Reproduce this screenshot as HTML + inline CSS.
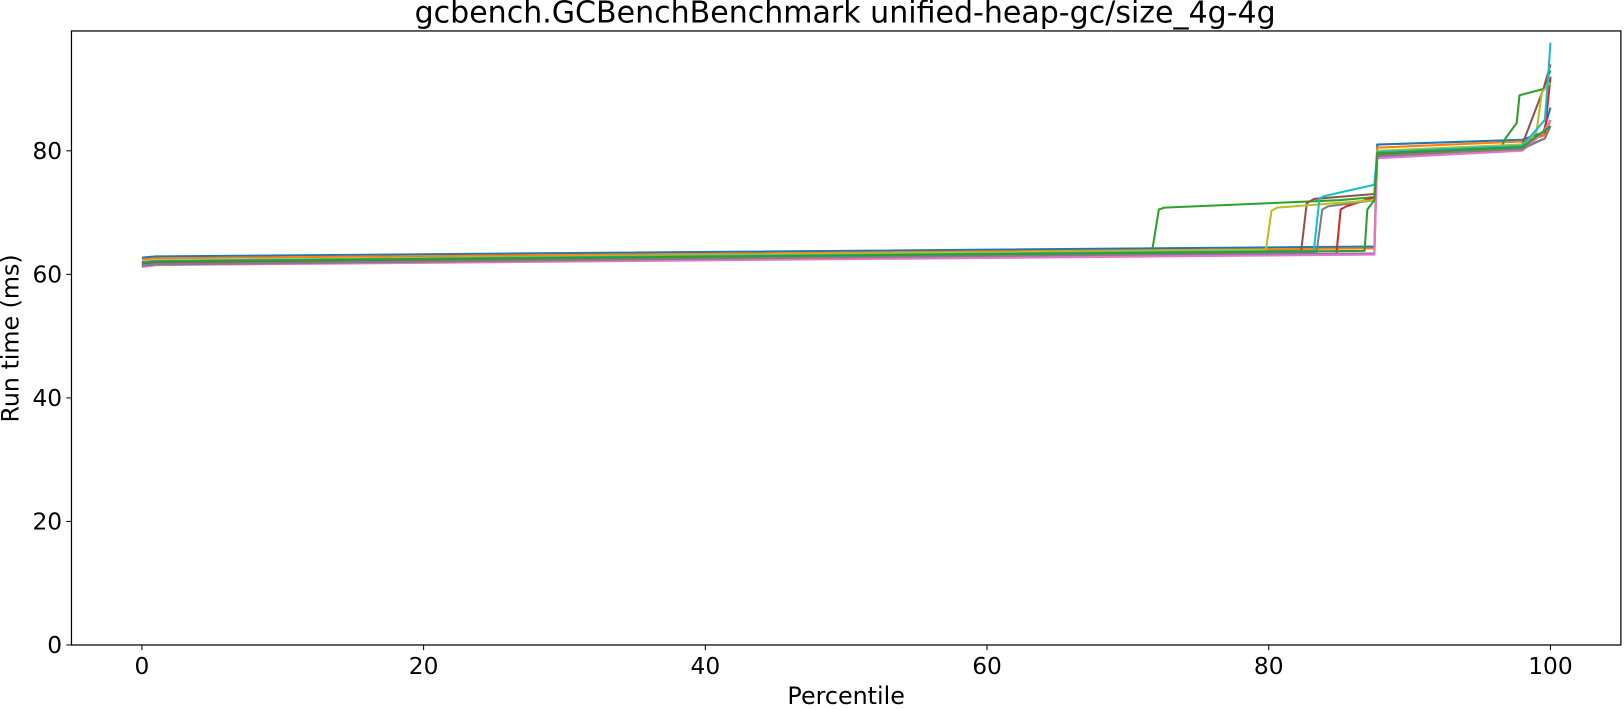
<!DOCTYPE html>
<html><head><meta charset="utf-8"><style>
html,body{margin:0;padding:0;background:#fff;overflow:hidden}
svg{display:block}
text{font-family:"DejaVu Sans","Liberation Sans",sans-serif;fill:#000}
</style></head><body>
<svg id="chart" width="1624" height="710" viewBox="0 0 1568 688" preserveAspectRatio="none" xmlns="http://www.w3.org/2000/svg">
<rect x="0" y="0" width="1568" height="688" fill="#fff"/>
<g id="series"></g>
<rect x="69" y="30" width="1496" height="595" fill="none" stroke="#000" stroke-width="1.2"/>
<g id="axes"></g>
<text x="816" y="22" font-size="29" text-anchor="middle">gcbench.GCBenchBenchmark unified-heap-gc/size_4g-4g</text>
<text x="817" y="682" font-size="23" text-anchor="middle">Percentile</text>
<text transform="translate(18,328) rotate(-90)" font-size="23" text-anchor="middle">Run time (ms)</text>
</svg>
<script>
const xTicks=[0,20,40,60,80,100];
const yTicks=[0,20,40,60,80];
const seriesColors=["#1f77b4","#ff7f0e","#2ca02c","#d62728","#9467bd","#8c564b","#e377c2","#7f7f7f","#bcbd22","#17becf","#2ca02c"];
const seriesNames=["run-1","run-2","run-3","run-4","run-5","run-6","run-7","run-8","run-9","run-10","run-11"];
const s1x=[0,1,87.5,87.7,98,99.5,100]; const s1y=[62.7,62.9,64.5,81,81.8,83,87];
const s2x=[0,1,87.5,87.7,98,99.6,100]; const s2y=[62.4,62.6,64.2,80.5,81.5,82.5,85];
const s3x=[0,1,71.7,72.2,72.6,85,87.5,87.7,96.5,96.8,97.6,97.8,99.5,100]; const s3y=[61.8,62,63.5,70.5,70.8,72,72.5,79.5,80.5,82,84.5,89,90,93];
const s4x=[0,1,84.8,85.1,85.5,87.5,87.7,98,99.6,100]; const s4y=[61.5,61.7,63.3,70.5,71,72.5,79.2,80.5,83,92];
const s5x=[0,1,87.5,87.7,98,99.6,100]; const s5y=[61.6,61.8,63.4,79,80.5,82,84];
const s6x=[0,1,82.3,82.7,83.2,87.5,87.7,98,99.5,100]; const s6y=[61.8,62,63.8,71.5,72.2,73,79.5,81,90,94];
const s7x=[0,1,87.5,87.7,98,99.5,100]; const s7y=[61.2,61.5,63.2,78.8,80,83,85];
const s8x=[0,1,83.4,83.8,84.2,87.5,87.7,98,99.6,100]; const s8y=[61.4,61.6,63.6,70.5,71,72,79.2,80.3,82,84];
const s9x=[0,1,79.8,80.2,80.6,87.5,87.7,98,99,99.4,100]; const s9y=[62,62.2,64,70.3,70.8,72,80,81,83,89.5,91];
const s10x=[0,1,83.2,83.6,84,87.5,87.7,98,99.6,99.8,100]; const s10y=[62,62.2,63.8,72.3,72.7,74.5,79.8,80.8,85,91,97.5];
const s11x=[0,1,86.8,87,87.5,87.7,98,100]; const s11y=[61.9,62.1,63.8,70.5,72,79.6,80.6,84];
const allX=[s1x,s2x,s3x,s4x,s5x,s6x,s7x,s8x,s9x,s10x,s11x];
const allY=[s1y,s2y,s3y,s4y,s5y,s6y,s7y,s8y,s9y,s10y,s11y];
const NS="http://www.w3.org/2000/svg";
const X0=69,X1=1565,Y0=625,Y1=30, xmin=-5,xmax=105,ymin=0,ymax=99.4;
function sx(v){return X0+(v-xmin)/(xmax-xmin)*(X1-X0);}
function sy(v){return Y0-(v-ymin)/(ymax-ymin)*(Y0-Y1);}
const axes=document.getElementById('axes');
xTicks.forEach(t=>{
  const l=document.createElementNS(NS,'line');
  
  
  l.setAttribute('x1',sx(t));l.setAttribute('x2',sx(t));l.setAttribute('y1',Y0);l.setAttribute('y2',Y0+5);l.setAttribute('stroke','#000');
  axes.appendChild(l);
  const tx=document.createElementNS(NS,'text');
  
  
  tx.setAttribute('x',sx(t));tx.setAttribute('y',Y0+28);tx.setAttribute('font-size','22.5');tx.setAttribute('text-anchor','middle');
  tx.textContent=t;axes.appendChild(tx);
});
yTicks.forEach(t=>{
  const l=document.createElementNS(NS,'line');
  
  
  l.setAttribute('x1',X0-5);l.setAttribute('x2',X0);l.setAttribute('y1',sy(t));l.setAttribute('y2',sy(t));l.setAttribute('stroke','#000');
  axes.appendChild(l);
  const tx=document.createElementNS(NS,'text');
  
  
  tx.setAttribute('x',X0-9);tx.setAttribute('y',sy(t)+8);tx.setAttribute('font-size','22.5');tx.setAttribute('text-anchor','end');
  tx.textContent=t;axes.appendChild(tx);
});
const g=document.getElementById('series');
allX.forEach((xs,i)=>{
  const ys=allY[i];
  const p=document.createElementNS(NS,'polyline');
  
  
  p.setAttribute('points',xs.map((x,j)=>sx(x).toFixed(1)+','+sy(ys[j]).toFixed(1)).join(' '));
  p.setAttribute('fill','none');p.setAttribute('stroke',seriesColors[i]);p.setAttribute('stroke-width','2');p.setAttribute('stroke-linejoin','round');
  g.appendChild(p);
});
</script>
</body></html>
